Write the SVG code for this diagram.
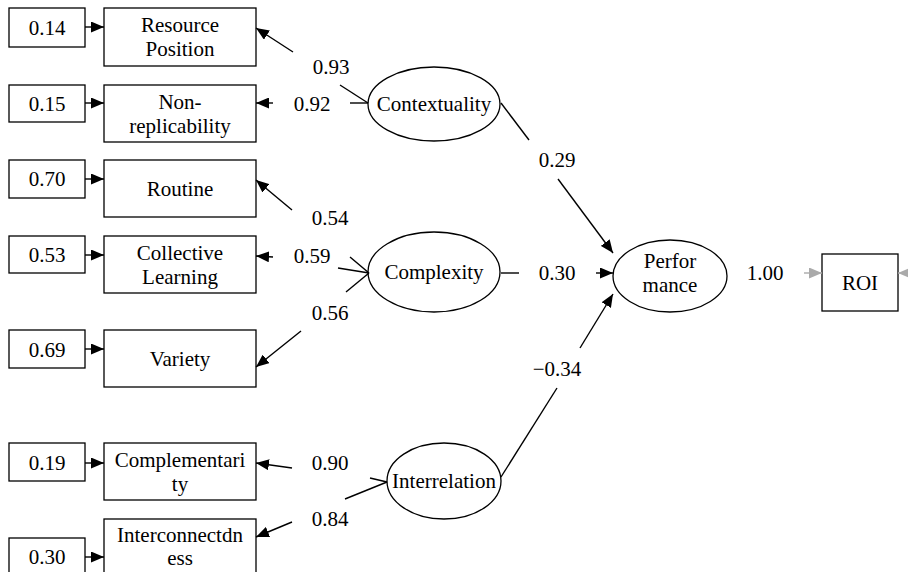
<svg xmlns="http://www.w3.org/2000/svg" width="908" height="572" viewBox="0 0 908 572">
<style>
.box{fill:#fff;stroke:#000;stroke-width:1.3}
.ell{fill:#fff;stroke:#000;stroke-width:1.3}
.t{fill:#000;text-anchor:middle}
.c{stroke:#000;stroke-width:1.4;fill:none}
.a{marker-end:url(#ah)}
.g{stroke:#aaa;stroke-width:1.4;fill:none;marker-end:url(#ahg)}
</style>
<defs>
<marker id="ah" markerUnits="userSpaceOnUse" markerWidth="13" markerHeight="11" refX="13" refY="5.5" orient="auto"><path d="M0,0 L13,5.5 L0,11 z" fill="#000"/></marker>
<marker id="ahg" markerUnits="userSpaceOnUse" markerWidth="13" markerHeight="11" refX="13" refY="5.5" orient="auto"><path d="M0,0 L13,5.5 L0,11 z" fill="#aaa"/></marker>
</defs>
<rect width="908" height="572" fill="#fff"/>
<g font-family="Liberation Serif" font-size="21">

<g id="e1"><rect class="box" x="9" y="8" width="76" height="39"/><text class="t" x="47" y="35">0.14</text></g>
<g id="e2"><rect class="box" x="9" y="85" width="76" height="37"/><text class="t" x="47" y="111">0.15</text></g>
<g id="e3"><rect class="box" x="9" y="160" width="76" height="38"/><text class="t" x="47" y="186">0.70</text></g>
<g id="e4"><rect class="box" x="9" y="236" width="76" height="37"/><text class="t" x="47" y="262">0.53</text></g>
<g id="e5"><rect class="box" x="9" y="330" width="76" height="38"/><text class="t" x="47" y="357">0.69</text></g>
<g id="e6"><rect class="box" x="9" y="443" width="76" height="38"/><text class="t" x="47" y="470">0.19</text></g>
<g id="e7"><rect class="box" x="9" y="538" width="76" height="40"/><text class="t" x="47" y="564">0.30</text></g>

<g id="resource-position"><rect class="box" x="104" y="8" width="152" height="58"/><text class="t" x="180" y="32">Resource</text><text class="t" x="180" y="56">Position</text></g>
<g id="non-replicability"><rect class="box" x="104" y="85" width="152" height="57"/><text class="t" x="180" y="109">Non-</text><text class="t" x="180" y="133">replicability</text></g>
<g id="routine"><rect class="box" x="104" y="160" width="152" height="57"/><text class="t" x="180" y="196">Routine</text></g>
<g id="collective-learning"><rect class="box" x="104" y="236" width="152" height="57"/><text class="t" x="180" y="260">Collective</text><text class="t" x="180" y="284">Learning</text></g>
<g id="variety"><rect class="box" x="104" y="330" width="152" height="57"/><text class="t" x="180" y="366">Variety</text></g>
<g id="complementarity"><rect class="box" x="104" y="443" width="152" height="57"/><text class="t" x="180" y="467">Complementari</text><text class="t" x="180" y="491">ty</text></g>
<g id="interconnectdness"><rect class="box" x="104" y="519" width="152" height="60"/><text class="t" x="180" y="542">Interconnectdn</text><text class="t" x="180" y="565">ess</text></g>

<g id="contextuality"><ellipse class="ell" cx="434" cy="104" rx="66" ry="37"/><text class="t" x="434" y="111">Contextuality</text></g>
<g id="complexity"><ellipse class="ell" cx="434" cy="272" rx="66" ry="40"/><text class="t" x="434" y="279">Complexity</text></g>
<g id="interrelation"><ellipse class="ell" cx="444" cy="481" rx="57" ry="38"/><text class="t" x="444" y="488">Interrelation</text></g>
<g id="performance"><ellipse class="ell" cx="670" cy="276" rx="57" ry="36"/><text class="t" x="670" y="268">Perfor</text><text class="t" x="670" y="292">mance</text></g>
<g id="roi"><rect class="box" x="822" y="254" width="76" height="57"/><text class="t" x="860" y="290">ROI</text></g>

<g id="connectors">
<line class="c a" x1="85" y1="27" x2="104" y2="27"/>
<line class="c a" x1="85" y1="103" x2="104" y2="103"/>
<line class="c a" x1="85" y1="179" x2="104" y2="179"/>
<line class="c a" x1="85" y1="255" x2="104" y2="255"/>
<line class="c a" x1="85" y1="349" x2="104" y2="349"/>
<line class="c a" x1="85" y1="463" x2="104" y2="463"/>
<line class="c a" x1="85" y1="557" x2="104" y2="557"/>

<line class="c a" x1="293" y1="52" x2="256" y2="28"/>
<line class="c" x1="340" y1="85" x2="368" y2="103"/>
<line class="c a" x1="273" y1="103" x2="256" y2="103"/>
<line class="c" x1="350" y1="103" x2="368" y2="103"/>

<line class="c a" x1="292" y1="210" x2="256" y2="180"/>
<line class="c" x1="350" y1="257" x2="369" y2="273"/>
<line class="c a" x1="273" y1="257" x2="256" y2="256"/>
<line class="c" x1="338" y1="268" x2="369" y2="273"/>
<line class="c a" x1="301" y1="331" x2="256" y2="367"/>
<line class="c" x1="346" y1="292" x2="369" y2="273"/>

<line class="c a" x1="292" y1="468" x2="256" y2="463"/>
<line class="c" x1="370" y1="478" x2="387" y2="482"/>
<line class="c a" x1="292" y1="522" x2="256" y2="537"/>
<line class="c" x1="345" y1="499" x2="387" y2="482"/>

<line class="c" x1="501" y1="103" x2="529" y2="140"/>
<line class="c a" x1="558" y1="179" x2="613" y2="253"/>
<line class="c" x1="501" y1="273" x2="519" y2="273"/>
<line class="c a" x1="596" y1="273" x2="613" y2="273"/>
<line class="c" x1="501" y1="477" x2="557" y2="388"/>
<line class="c a" x1="580" y1="348" x2="613" y2="294"/>

<line class="g" x1="804" y1="273" x2="822" y2="273"/>
<line class="g" x1="920" y1="273" x2="898" y2="273"/>
</g>

<g id="labels">
<text class="t" x="331" y="74">0.93</text>
<text class="t" x="312" y="111">0.92</text>
<text class="t" x="330" y="225">0.54</text>
<text class="t" x="312" y="263">0.59</text>
<text class="t" x="330" y="320">0.56</text>
<text class="t" x="330" y="470">0.90</text>
<text class="t" x="330" y="526">0.84</text>
<text class="t" x="557" y="167">0.29</text>
<text class="t" x="557" y="280">0.30</text>
<text class="t" x="557" y="376">−0.34</text>
<text class="t" x="765" y="280">1.00</text>
</g>
</g>
</svg>
